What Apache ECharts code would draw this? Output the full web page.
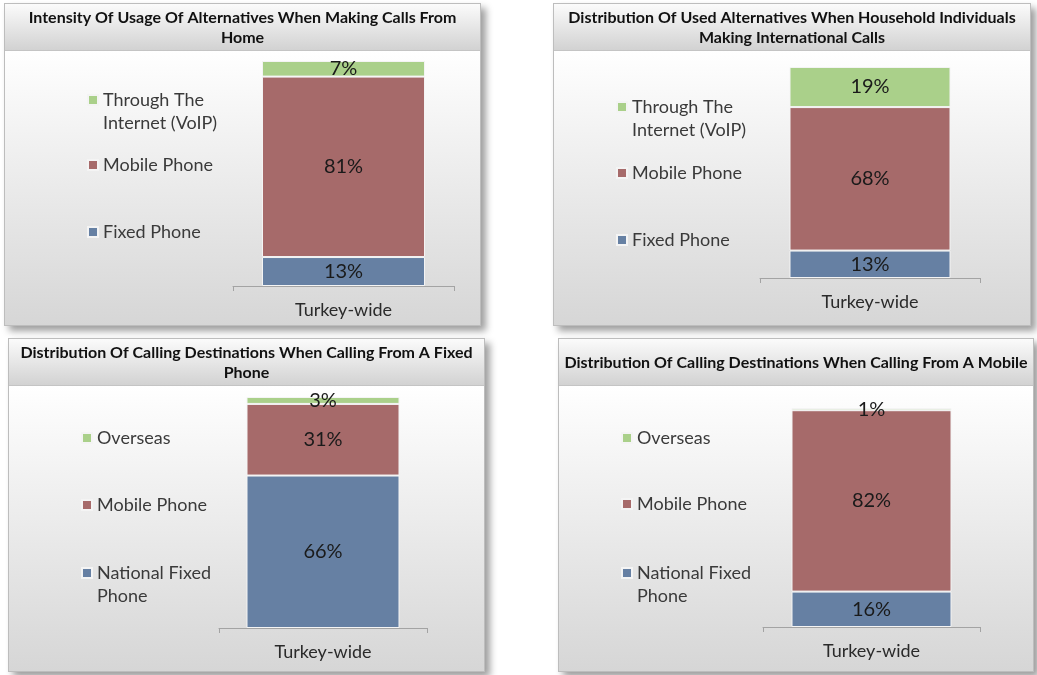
<!DOCTYPE html>
<html>
<head>
<meta charset="utf-8">
<script src="https://cdn.jsdelivr.net/npm/echarts@6/dist/echarts.min.js"></script>
<style>
  html, body { margin: 0; padding: 0; background: #ffffff; }
  body { width: 1037px; height: 675px; position: relative; overflow: hidden; font-family: Lato, "Liberation Sans", sans-serif; }
  .panel {
    position: absolute; box-sizing: border-box;
    border: 1px solid #bdbdbd;
    background: linear-gradient(to bottom, #ffffff 14%, #d6d6d6 100%);
    box-shadow: 5px 5px 7px rgba(0,0,0,0.38);
  }
  .tbar {
    position: absolute; left: 0; top: 0; right: 0; height: 46px;
    background: linear-gradient(to bottom, #fbfbfb 0%, #d2d2d2 100%);
    border-bottom: 1px solid #c4c4c4;
  }
  .chart { position: absolute; left: 0; top: 0; right: 0; bottom: 0; }
</style>
</head>
<body>
<script>
// ---------------- data ----------------
const categories = ['Turkey-wide'];

const title1 = 'Intensity Of Usage Of Alternatives When Making Calls From\nHome';
const names1 = ['Fixed Phone', 'Mobile Phone', 'Through The Internet (VoIP)'];
const labels1 = ['Fixed Phone', 'Mobile Phone', 'Through The\nInternet (VoIP)'];
const values1 = [13, 81, 7];

const title2 = 'Distribution Of Used Alternatives When Household Individuals\nMaking International Calls';
const names2 = ['Fixed Phone', 'Mobile Phone', 'Through The Internet (VoIP)'];
const labels2 = ['Fixed Phone', 'Mobile Phone', 'Through The\nInternet (VoIP)'];
const values2 = [13, 68, 19];

const title3 = 'Distribution Of Calling Destinations When Calling From A Fixed\nPhone';
const names3 = ['National Fixed Phone', 'Mobile Phone', 'Overseas'];
const labels3 = ['National Fixed\nPhone', 'Mobile Phone', 'Overseas'];
const values3 = [66, 31, 3];

const title4 = 'Distribution Of Calling Destinations When Calling From A Mobile';
const names4 = ['National Fixed Phone', 'Mobile Phone', 'Overseas'];
const labels4 = ['National Fixed\nPhone', 'Mobile Phone', 'Overseas'];
const values4 = [16, 82, 1];

const seriesColors = ['#6680A3', '#A66A6A', '#AAD08A'];

// ---------------- layout ----------------
const panels = [
  { title: title1, names: names1, labels: labels1, values: values1,
    box: [4, 3, 477, 323], titleTop: 4,
    grid: [228, 57, 221, 225], barWidth: 163,
    legendX: 82, legendY: [228, 161, 96] },
  { title: title2, names: names2, labels: labels2, values: values2,
    box: [553, 3, 478, 323], titleTop: 4,
    grid: [206, 63, 220, 211], barWidth: 161,
    legendX: 62, legendY: [236, 169, 103] },
  { title: title3, names: names3, labels: labels3, values: values3,
    box: [8, 338, 477, 334], titleTop: 4,
    grid: [210, 58, 208, 231], barWidth: 153,
    legendX: 72, legendY: [234, 166, 99] },
  { title: title4, names: names4, labels: labels4, values: values4,
    box: [558, 338, 476, 334], titleTop: 14,
    grid: [204, 69, 217, 219], barWidth: 160,
    legendX: 62, legendY: [234, 165, 99] }
];

const FONT = 'Lato, "Liberation Sans", sans-serif';
const LH = 23;

panels.forEach(function (p) {
  const panel = document.createElement('div');
  panel.className = 'panel';
  panel.style.left = p.box[0] + 'px';
  panel.style.top = p.box[1] + 'px';
  panel.style.width = p.box[2] + 'px';
  panel.style.height = p.box[3] + 'px';
  const tbar = document.createElement('div');
  tbar.className = 'tbar';
  panel.appendChild(tbar);
  const el = document.createElement('div');
  el.className = 'chart';
  panel.appendChild(el);
  document.body.appendChild(panel);

  const chart = echarts.init(el, null, { renderer: 'canvas', width: p.box[2] - 2, height: p.box[3] - 2 });
  const total = p.values.reduce(function (a, b) { return a + b; }, 0);

  const legends = p.names.map(function (n, i) {
    const multi = p.labels[i].indexOf('\n') >= 0;
    // a leading empty line keeps the marker aligned with the first text line
    const shown = multi ? '\n' + p.labels[i] : p.labels[i];
    return {
      data: [n],
      orient: 'vertical',
      left: p.legendX,
      top: multi ? p.legendY[i] - LH * 1.5 : p.legendY[i] - LH / 2,
      padding: 0,
      itemWidth: 10,
      itemHeight: 10,
      icon: 'rect',
      selectedMode: false,
      formatter: function () { return shown; },
      textStyle: {
        fontFamily: FONT, fontSize: 18, color: '#3a3a3a', lineHeight: LH
      }
    };
  });

  const series = p.names.map(function (n, i) {
    return {
      name: n,
      type: 'bar',
      stack: 'total',
      barWidth: p.barWidth,
      data: [p.values[i]],
      itemStyle: { color: seriesColors[i], borderColor: '#f4f4f4', borderWidth: 1 },
      label: {
        show: true, position: 'inside', formatter: '{c}%',
        fontFamily: FONT, fontSize: 20, color: '#1a1a1a'
      },
      emphasis: { disabled: true }
    };
  });

  chart.setOption({
    animation: false,
    title: {
      text: p.title,
      left: 'center',
      top: p.titleTop,
      padding: 0,
      textStyle: { fontFamily: FONT, fontWeight: 'bold', fontSize: 16, color: '#111111', lineHeight: 20 }
    },
    legend: legends,
    grid: { left: p.grid[0], top: p.grid[1], width: p.grid[2], height: p.grid[3], containLabel: false },
    xAxis: {
      type: 'category',
      data: categories,
      axisLine: { show: true, lineStyle: { color: '#a3a3a3', width: 1 } },
      axisTick: { show: true, length: 5, lineStyle: { color: '#a3a3a3' } },
      axisLabel: { fontFamily: FONT, fontSize: 18, color: '#2a2a2a', margin: 15 }
    },
    yAxis: {
      type: 'value', min: 0, max: total, show: false,
      splitLine: { show: false }
    },
    series: series
  });
});
</script>
</body>
</html>
